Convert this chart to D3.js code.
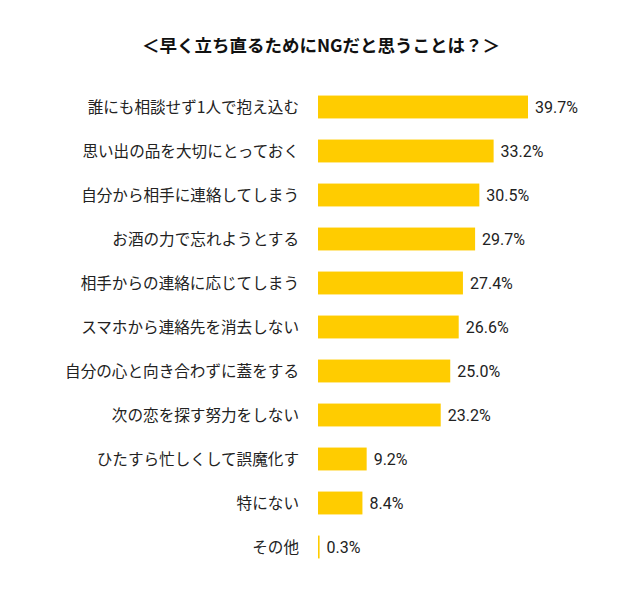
<!DOCTYPE html>
<html>
<head>
<meta charset="utf-8">
<script src="https://cdn.jsdelivr.net/npm/d3@7"></script>
<style>
  body { margin: 0; background: #fff; }
  svg { font-family: "Noto Sans CJK JP", "Noto Sans", sans-serif; }
</style>
</head>
<body>
<svg></svg>
<script>
const categories = [
  "誰にも相談せず1人で抱え込む",
  "思い出の品を大切にとっておく",
  "自分から相手に連絡してしまう",
  "お酒の力で忘れようとする",
  "相手からの連絡に応じてしまう",
  "スマホから連絡先を消去しない",
  "自分の心と向き合わずに蓋をする",
  "次の恋を探す努力をしない",
  "ひたすら忙しくして誤魔化す",
  "特にない",
  "その他"
];
const values = [39.7, 33.2, 30.5, 29.7, 27.4, 26.6, 25.0, 23.2, 9.2, 8.4, 0.3];
const title = "＜早く立ち直るためにNGだと思うことは？＞";

const svg = d3.select('svg').attr('width', 640).attr('height', 603);
const margin = { top: 85, left: 318 };

const x = d3.scaleLinear().domain([0, 39.7]).range([0, 210]);
const y = d3.scaleBand()
  .domain(categories)
  .range([0, 484])
  .paddingInner(0.48)
  .paddingOuter(0.24);

svg.append('text')
  .attr('x', 321)
  .attr('y', 52)
  .attr('text-anchor', 'middle')
  .attr('font-size', 17.5)
  .attr('font-weight', 'bold')
  .attr('fill', '#111')
  .text(title);

const g = svg.append('g')
  .attr('transform', `translate(${margin.left},${margin.top})`);

g.selectAll('.bar')
  .data(values)
  .enter().append('rect')
  .attr('class', 'bar')
  .attr('x', 0)
  .attr('y', (d, i) => y(categories[i]))
  .attr('width', d => Math.max(x(d), 1.6))
  .attr('height', y.bandwidth())
  .attr('fill', '#FFCC00');

g.selectAll('.val')
  .data(values)
  .enter().append('text')
  .attr('class', 'val')
  .attr('x', d => Math.max(x(d), 1.6) + 7)
  .attr('y', (d, i) => y(categories[i]) + y.bandwidth() / 2)
  .attr('dy', '0.36em')
  .attr('font-family', 'Roboto, "Liberation Sans", sans-serif')
  .attr('font-size', 16)
  .attr('fill', '#222')
  .text(d => d.toFixed(1) + '%');

g.selectAll('.cat')
  .data(categories)
  .enter().append('text')
  .attr('class', 'cat')
  .attr('x', -19)
  .attr('y', d => y(d) + y.bandwidth() / 2)
  .attr('dy', '0.36em')
  .attr('text-anchor', 'end')
  .attr('font-size', 15.6)
  .attr('fill', '#222')
  .text(d => d);
</script>
</body>
</html>
